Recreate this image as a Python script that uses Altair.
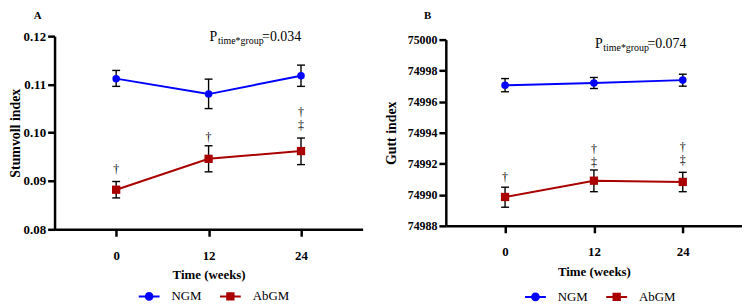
import altair as alt
import pandas as pd

SERIF = "Liberation Serif"
BLUE = "#0000ff"
RED = "#aa0000"

weeks = [0, 12, 24]
groups = ["NGM", "AbGM"]

# Panel A: Stumvoll index
a_ngm_mean = [0.1112, 0.1080, 0.1118]
a_ngm_lo = [0.1096, 0.1050, 0.1096]
a_ngm_hi = [0.1129, 0.1111, 0.1140]
a_abgm_mean = [0.0882, 0.0946, 0.0962]
a_abgm_lo = [0.0865, 0.0919, 0.0934]
a_abgm_hi = [0.0899, 0.0973, 0.0989]

# Panel B: Gutt index
b_ngm_mean = [74997.06, 74997.21, 74997.39]
b_ngm_lo = [74996.64, 74996.85, 74997.00]
b_ngm_hi = [74997.49, 74997.56, 74997.77]
b_abgm_mean = [74989.86, 74990.91, 74990.83]
b_abgm_lo = [74989.20, 74990.20, 74990.20]
b_abgm_hi = [74990.49, 74991.60, 74991.45]

# significance marks
a_sig_time = [0, 12, 24, 24]
a_sig_y = [0.0925, 0.0992, 0.1042, 0.1015]
a_sig_text = ["†", "†", "†", "‡"]
b_sig_time = [0, 12, 12, 24, 24]
b_sig_y = [74991.15, 74992.95, 74992.10, 74993.06, 74992.23]
b_sig_text = ["†", "†", "‡", "†", "‡"]

# interaction p values
a_p = "=0.034"
b_p = "=0.074"
a_p_y = 0.1198
b_p_y = 74999.70
p_sub = "time*group"

PATH_C = ("M-1,-0.1H1V0.1H-1Z"
          "M-0.42,0A0.42,0.42,0,1,1,0.42,0A0.42,0.42,0,1,1,-0.42,0Z")
PATH_S = "M-1,-0.1H1V0.1H-1ZM-0.4,-0.4H0.4V0.4H-0.4Z"


def make_df(ngm_m, ngm_lo, ngm_hi, ab_m, ab_lo, ab_hi):
    rows = []
    for g, m, lo, hi in (("NGM", ngm_m, ngm_lo, ngm_hi), ("AbGM", ab_m, ab_lo, ab_hi)):
        for t, a, b, c in zip(weeks, m, lo, hi):
            rows.append({"group": g, "time": t, "mean": a, "lo": b, "hi": c})
    return pd.DataFrame(rows)


def panel(df, sig_df, p_df, letter, ytitle, ydom, yvals, yfmt, width, height,
          title_offset, title_dx, ylab_size, ytitle_pad, leg_x, leg_y):
    xs = alt.Scale(domain=[-8, 32], nice=False, zero=False)
    ys = alt.Scale(domain=ydom, nice=False, zero=False)
    common = dict(labelFont=SERIF, titleFont=SERIF, labelFontWeight="bold",
                  titleFontWeight="bold", labelColor="black", titleColor="black",
                  labelOverlap=False, grid=False)
    xaxis = alt.Axis(values=weeks, title="Time (weeks)", labelFontSize=13,
                     titleFontSize=13, labelPadding=13, titlePadding=7, **common)
    yaxis = alt.Axis(values=yvals, format=yfmt, title=ytitle, labelFontSize=ylab_size,
                     titleFontSize=14, labelPadding=2, titlePadding=ytitle_pad, **common)
    X = alt.X("time:Q", scale=xs, axis=xaxis)

    def Y(f):
        return alt.Y(f + ":Q", scale=ys, axis=yaxis)

    base = alt.Chart(df)

    leg = alt.Legend(orient="none", legendX=leg_x, legendY=leg_y, direction="horizontal",
                     title=None, labelFont=SERIF, labelFontSize=13, labelColor="black",
                     symbolSize=441, labelOffset=12, columnPadding=18, padding=0,
                     symbolOpacity=1, symbolStrokeWidth=0)
    legend_layer = base.transform_filter("false").mark_point(
        filled=True, opacity=1, size=441).encode(
        x=X, y=Y("mean"),
        color=alt.Color("group:N", scale=alt.Scale(domain=groups, range=[BLUE, RED]), legend=leg),
        shape=alt.Shape("group:N", scale=alt.Scale(domain=groups, range=[PATH_C, PATH_S]), legend=leg),
    )
    layers = [legend_layer]
    for g, col in (("NGM", BLUE), ("AbGM", RED)):
        layers.append(base.transform_filter(alt.datum.group == g).mark_line(
            color=col, strokeWidth=2).encode(x=X, y=Y("mean")))
    layers.append(base.mark_rule(color="black", strokeWidth=1.4).encode(
        x=X, y=Y("lo"), y2="hi:Q"))
    for f in ("lo", "hi"):
        layers.append(base.mark_tick(orient="horizontal", size=8, thickness=1.4,
                                     color="black", opacity=1).encode(x=X, y=Y(f)))
    for g, col, shp, sz in (("NGM", BLUE, "circle", 58), ("AbGM", RED, "square", 70)):
        layers.append(base.transform_filter(alt.datum.group == g).mark_point(
            filled=True, opacity=1, color=col, shape=shp, size=sz).encode(
            x=X, y=Y("mean")))
    layers.append(alt.Chart(sig_df).mark_text(font=SERIF, fontSize=12, color="black",
                                              baseline="middle").encode(
        x=X, y=Y("y"), text="txt:N"))
    layers.append(alt.Chart(p_df).mark_text(font=SERIF, fontSize=14, color="black",
                                            align="left", baseline="middle", dx=1).encode(
        x=X, y=Y("y"), text="p1:N"))
    layers.append(alt.Chart(p_df).mark_text(font=SERIF, fontSize=10, color="black",
                                            align="left", baseline="middle", dx=9.5, dy=4).encode(
        x=X, y=Y("y"), text="p2:N"))
    layers.append(alt.Chart(p_df).mark_text(font=SERIF, fontSize=14, color="black",
                                            align="left", baseline="middle", dx=54).encode(
        x=X, y=Y("y"), text="p3:N"))

    return alt.layer(*layers).properties(
        width=width, height=height,
        title=alt.TitleParams(letter, anchor="start", frame="group", dx=title_dx,
                              offset=title_offset, font=SERIF, fontSize=11,
                              fontWeight="bold", color="black"),
    )


df_a = make_df(a_ngm_mean, a_ngm_lo, a_ngm_hi, a_abgm_mean, a_abgm_lo, a_abgm_hi)
df_b = make_df(b_ngm_mean, b_ngm_lo, b_ngm_hi, b_abgm_mean, b_abgm_lo, b_abgm_hi)
sig_a = pd.DataFrame({"time": a_sig_time, "y": a_sig_y, "txt": a_sig_text})
sig_b = pd.DataFrame({"time": b_sig_time, "y": b_sig_y, "txt": b_sig_text})
p_a = pd.DataFrame({"time": [12], "y": [a_p_y], "p1": ["P"], "p2": [p_sub], "p3": [a_p]})
p_b = pd.DataFrame({"time": [12], "y": [b_p_y], "p1": ["P"], "p2": [p_sub], "p3": [b_p]})

chart_a = panel(df_a, sig_a, p_a, "A", "Stumvoll index", [0.08, 0.12],
                [0.08, 0.09, 0.10, 0.11, 0.12], ".2f", 311, 195, 9, -21, 13, 1, 85, 252)
chart_b = panel(df_b, sig_b, p_b, "B", "Gutt index", [74988, 75000],
                [74988, 74990, 74992, 74994, 74996, 74998, 75000], "d", 299, 188, 12.5, -22,
                12, 9, 80, 249)

chart = alt.hconcat(chart_a, chart_b, spacing=84, bounds="flush", center=True).resolve_scale(
    color="independent", shape="independent", x="independent", y="independent"
).resolve_legend(color="independent", shape="independent").configure_view(
    stroke=None
).configure_axis(
    grid=False, domainColor="black", domainWidth=2.5, tickColor="black", tickWidth=2.5,
    tickSize=7, labelFont=SERIF, labelFontWeight="bold", labelColor="black",
    titleFont=SERIF, titleFontWeight="bold", titleColor="black",
).properties(background="white", padding=0)

chart.save("out.html", embed_options={"renderer": "svg", "actions": False})
